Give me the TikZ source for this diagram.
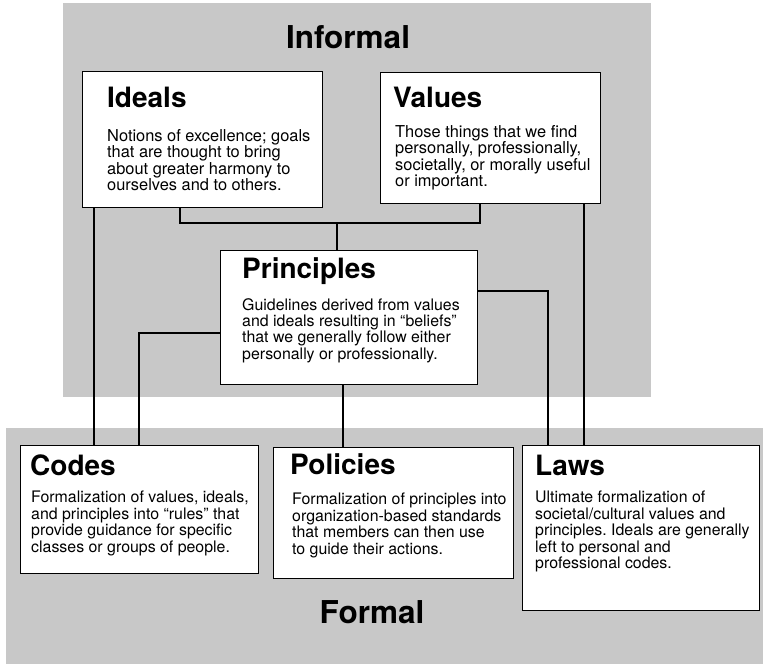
\documentclass[tikz,border=0pt]{standalone}
\usepackage{fontspec}
\setmainfont{TeX Gyre Heros}
\definecolor{panelgray}{RGB}{200,200,200}
\frenchspacing
\begin{document}
\begin{tikzpicture}[x=1pt,y=-1pt,
  box/.style={draw=black, line width=1.4pt, fill=white, anchor=north west, inner sep=0pt},
  ttl/.style={anchor=base west, inner sep=0pt, font=\fontsize{28}{30}\selectfont\bfseries},
  body/.style={anchor=north west, inner sep=0pt, align=left, font=\fontsize{16.4}{16.5}\selectfont},
  bodyn/.style={anchor=north west, inner sep=0pt, align=left, font=\fontsize{15.9}{16.4}\selectfont},
  hdr/.style={anchor=base, inner sep=0pt, font=\fontsize{31.5}{34}\selectfont\bfseries},
  link/.style={line width=1.3pt}]
\useasboundingbox (0,0) rectangle (763,665);
\fill[white] (0,0) rectangle (763,665);
% panels
\fill[panelgray] (63,3) rectangle (651,397);
\fill[panelgray] (6,428) rectangle (763,664);
\node[hdr] (informal) at (348,48) {Informal};
\node[hdr] (formal) at (372,623) {Formal};

% boxes
\node[box, minimum width=240pt, minimum height=136pt] (ideals) at (82,71) {};
\node[box, minimum width=220pt, minimum height=131pt] (values) at (380,72) {};
\node[box, minimum width=257pt, minimum height=134pt] (princ) at (220,250) {};
\node[box, minimum width=238pt, minimum height=128pt] (codes) at (20,445) {};
\node[box, minimum width=240pt, minimum height=131pt] (policies) at (273,447) {};
\node[box, minimum width=237pt, minimum height=165pt] (laws) at (522,445) {};

% titles
\node[ttl] (idealsT) at (107,107) {Ideals};
\node[ttl] (valuesT) at (393,107) {Values};
\node[ttl] (princT) at (242,278) {Principles};
\node[ttl] (codesT) at (30,475) {Codes};
\node[ttl] (policiesT) at (290,474) {Policies};
\node[ttl] (lawsT) at (535,475) {Laws};

% bodies
\node[body] (idealsB) at (107,129) {Notions of excellence; goals\\that are thought to bring\\about greater harmony to\\ourselves and to others.};
\node[body] (valuesB) at (395,125) {Those things that we find\\personally, professionally,\\societally, or morally useful\\or important.};
\node[bodyn] (princB) at (242,298) {Guidelines derived from values\\and ideals resulting in “beliefs”\\that we generally follow either\\personally or professionally.};
\node[bodyn] (codesB) at (31,491) {Formalization of values, ideals,\\and principles into “rules” that\\provide guidance for specific\\classes or groups of people.};
\node[bodyn] (policiesB) at (292,493) {Formalization of principles into\\organization-based standards\\that members can then use\\to guide their actions.};
\node[bodyn] (lawsB) at (535,491) {Ultimate formalization of\\societal/cultural values and\\principles. Ideals are generally\\left to personal and\\professional codes.};

% connectors
\coordinate (jn) at (337,223);
\draw[link] ([xshift=98pt]ideals.south west) |- ([xshift=100pt]values.south west |- jn) -- ([xshift=100pt]values.south west);
\draw[link] (jn) -- (jn |- princ.north);
\draw[link] ([xshift=12pt]ideals.south west) -- ([xshift=12pt]ideals.south west |- codes.north);
\draw[link] ([xshift=204pt]values.south west) -- ([xshift=204pt]values.south west |- laws.north);
\draw[link] ([yshift=-83pt]princ.north west) -| ([xshift=119pt]codes.north west);
\draw[link] ([yshift=-41pt]princ.north east) -| ([xshift=26pt]laws.north west);
\draw[link] ([xshift=123pt]princ.south west) -- ([xshift=123pt]princ.south west |- policies.north);
\end{tikzpicture}
\end{document}
